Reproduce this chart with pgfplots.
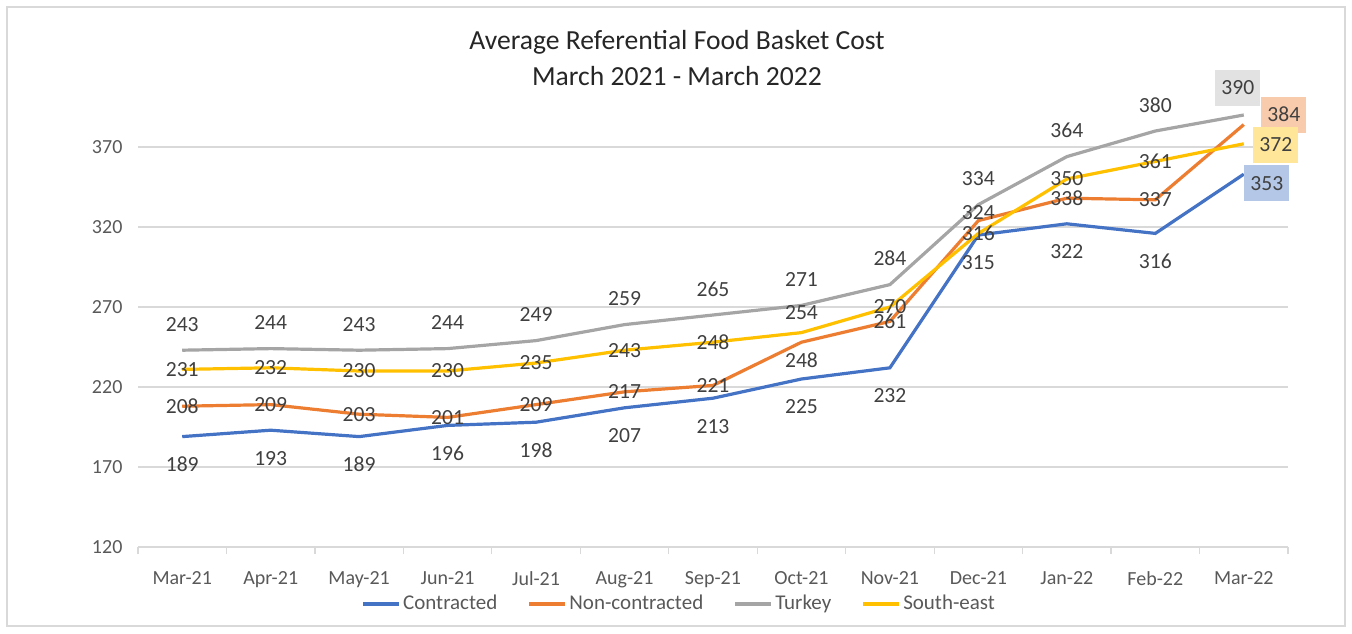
\documentclass[border=0pt]{standalone}
\usepackage{pgfplots}
\pgfplotsset{compat=1.18}
\usepackage{pgfplotstable}
\usepackage{fontspec}
\setmainfont{Carlito}
\definecolor{cA}{HTML}{4472C4}
\definecolor{cB}{HTML}{ED7D31}
\definecolor{cC}{HTML}{A5A5A5}
\definecolor{cD}{HTML}{FFC000}
\definecolor{bA}{HTML}{B4C7E7}
\definecolor{bB}{HTML}{F8CBAD}
\definecolor{bC}{HTML}{E2E2E2}
\definecolor{bD}{HTML}{FFE699}
\definecolor{txt}{HTML}{404040}
\definecolor{tck}{HTML}{595959}
\definecolor{grd}{HTML}{D9D9D9}

\pgfplotstableread{
x y dy
0 189 -14
1 193 -14
2 189 -14
3 196 -14
4 198 -14
5 207 -14
6 213 -14
7 225 -14
8 232 -14
9 315 -14
10 322 -14
11 316 -14
12 353 0
}\contracted
\pgfplotstableread{
x y dy
0 208 0
1 209 0
2 203 0
3 201 0
4 209 0
5 217 0
6 221 0
7 248 -9
8 261 0
9 324 4
10 338 0
11 337 0
12 384 0
}\noncontracted
\pgfplotstableread{
x y dy
0 243 13
1 244 13
2 243 13
3 244 13
4 249 13
5 259 13
6 265 13
7 271 13
8 284 13
9 334 13
10 364 13
11 380 13
12 390 0
}\turkey
\pgfplotstableread{
x y dy
0 231 0
1 232 0
2 230 0
3 230 0
4 235 0
5 243 0
6 248 0
7 254 10
8 270 0
9 316 0
10 350 0
11 361 0
12 372 0
}\southeast

\begin{document}
\begin{tikzpicture}[font=\fontsize{10pt}{12pt}\selectfont]
\path[use as bounding box] (0,0) rectangle (676pt,316.5pt);
\draw[grd, line width=0.6pt] (3.5pt,3.5pt) rectangle (672.5pt,313pt);
\node[align=center, text=black!85, font=\fontsize{13.8pt}{18pt}\selectfont] at (338.5pt,287.5pt) {Average Referential Food Basket Cost\\March 2021 - March 2022};
\begin{axis}[
  at={(69pt,43pt)}, anchor=south west,
  scale only axis, width=575pt, height=224pt,
  xmin=-0.5, xmax=12.5, ymin=120, ymax=400,
  clip=false,
  /pgf/number format/assume math mode=true,
  axis x line*=bottom, axis y line*=left,
  x axis line style={grd, line width=0.6pt},
  y axis line style={draw=none},
  ytick={120,170,...,370},
  ytick style={draw=none},
  ymajorgrids, grid style={grd, line width=0.6pt},
  xtick={0,...,12},
  xticklabels={Mar-21,Apr-21,May-21,Jun-21,Jul-21,Aug-21,Sep-21,Oct-21,Nov-21,Dec-21,Jan-22,Feb-22,Mar-22},
  xtick style={draw=none},
  tick align=outside,
  extra x ticks={-0.5,0.5,...,12.5},
  extra x tick labels={},
  extra x tick style={major tick length=3.5pt, xtick style={draw=grd, line width=0.6pt}, grid=none},
  xticklabel style={text=tck, yshift=-4.5pt},
  yticklabel style={text=tck},
  legend columns=4,
  legend style={draw=none, fill=none, at={(0.4705,-0.127)}, anchor=center, text=tck,
    inner sep=0pt, nodes={inner xsep=1pt, font=\fontsize{10.5pt}{12pt}\selectfont},
    /tikz/every even column/.append style={column sep=14pt}},
  legend image code/.code={\draw[#1, line width=2pt] (0pt,0pt) -- (18pt,0pt);},
  every node near coord/.append style={text=txt, anchor=center, font=\fontsize{10.8pt}{12pt}\selectfont},
]
\addplot[cA, line width=1.6pt] table[x=x,y=y] {\contracted};
\addlegendentry{Contracted}
\addplot[cB, line width=1.6pt] table[x=x,y=y] {\noncontracted};
\addlegendentry{Non-contracted}
\addplot[cC, line width=1.6pt] table[x=x,y=y] {\turkey};
\addlegendentry{Turkey}
\addplot[cD, line width=1.6pt] table[x=x,y=y] {\southeast};
\addlegendentry{South-east}

\pgfplotsset{lbl/.style={draw=none, mark=none, forget plot, nodes near coords,
  restrict x to domain=-1:11.5,
  visualization depends on={\thisrow{dy}\as\dy},
  nodes near coords style={yshift=\dy pt}}}
\pgfplotsset{box/.style n args={3}{draw=none, mark=none, forget plot, nodes near coords,
  restrict x to domain=11.5:12.5,
  nodes near coords style={fill=#1, xshift=#2, yshift=#3, inner sep=0pt, minimum width=22.5pt, minimum height=18pt}}}

\addplot[lbl] table[x=x,y=y] {\contracted};
\addplot[lbl] table[x=x,y=y] {\noncontracted};
\addplot[lbl] table[x=x,y=y] {\turkey};
\addplot[lbl] table[x=x,y=y] {\southeast};

\addplot[box={bA}{11.5pt}{-4.5pt}] table[x=x,y=y] {\contracted};
\addplot[box={bB}{20pt}{5pt}] table[x=x,y=y] {\noncontracted};
\addplot[box={bC}{-3pt}{13.5pt}] table[x=x,y=y] {\turkey};
\addplot[box={bD}{16pt}{-0.5pt}] table[x=x,y=y] {\southeast};
\end{axis}
\end{tikzpicture}
\end{document}
